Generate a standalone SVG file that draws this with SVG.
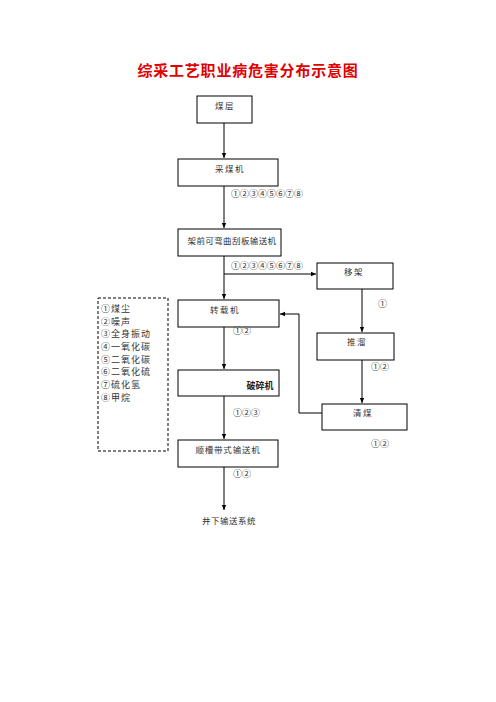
<svg xmlns="http://www.w3.org/2000/svg" width="496" height="702" viewBox="0 0 496 702">
<defs>
<marker id="ah" markerWidth="6" markerHeight="6" refX="5" refY="3" orient="auto" markerUnits="userSpaceOnUse">
<path d="M0,0.8 L5,3 L0,5.2 Z" fill="#000"/>
</marker>
<style>
.box{fill:#fff;stroke:#000;stroke-width:1}
.t{font-family:"Noto Sans CJK SC","Noto Sans CJK JP",sans-serif;font-size:8.5px;fill:#333;letter-spacing:1.5px}
.l{font-family:"Noto Sans CJK SC","Noto Sans CJK JP",sans-serif;font-size:9px;fill:#333;letter-spacing:1px}
.n{font-family:"Noto Sans CJK SC","Noto Sans CJK JP",sans-serif;font-size:9px;fill:#333}
.c{stroke:#000;stroke-width:1;fill:none}
</style>
</defs>
<rect width="496" height="702" fill="#fff"/>
<text x="248" y="76" text-anchor="middle" font-family="Noto Sans CJK SC,sans-serif" font-size="15" font-weight="bold" fill="#e00000" letter-spacing="0.8">综采工艺职业病危害分布示意图</text>

<g id="connectors">
<path class="c" d="M224,123 V158" marker-end="url(#ah)"/>
<path class="c" d="M224,186 V228" marker-end="url(#ah)"/>
<path class="c" d="M224,256 V299" marker-end="url(#ah)"/>
<path class="c" d="M224,274 H316" marker-end="url(#ah)"/>
<path class="c" d="M224,327 V369" marker-end="url(#ah)"/>
<path class="c" d="M224,396 V439" marker-end="url(#ah)"/>
<path class="c" d="M224,467 V510" marker-end="url(#ah)"/>
<path class="c" d="M362,289 V332" marker-end="url(#ah)"/>
<path class="c" d="M362,360 V403" marker-end="url(#ah)"/>
<path class="c" d="M322,413 H299 V314 H280" marker-end="url(#ah)"/>
</g>

<g id="n-meiceng"><rect class="box" x="197" y="96" width="55" height="27"/><text class="t" x="225" y="109" text-anchor="middle">煤层</text></g>
<g id="n-caimeiji"><rect class="box" x="178" y="159" width="100" height="27"/><text class="t" x="230" y="172" text-anchor="middle">采煤机</text></g>
<g id="n-guaban"><rect class="box" x="178" y="229" width="103" height="27"/><text class="t" x="232" y="244" text-anchor="middle" style="letter-spacing:0.4px">架前可弯曲刮板输送机</text></g>
<g id="n-yijia"><rect class="box" x="317" y="263" width="76" height="26"/><text class="t" x="354" y="275" text-anchor="middle">移架</text></g>
<g id="n-zhuanzaiji"><rect class="box" x="178" y="300" width="101" height="27"/><text class="t" x="225" y="313" text-anchor="middle">转载机</text></g>
<g id="n-tuiliu"><rect class="box" x="317" y="333" width="77" height="27"/><text class="t" x="357" y="345" text-anchor="middle">推溜</text></g>
<g id="n-posuiji"><rect class="box" x="178" y="370" width="101" height="26"/><text x="260" y="389" text-anchor="middle" font-family="Noto Sans CJK SC,sans-serif" font-size="9" font-weight="bold" fill="#222">破碎机</text></g>
<g id="n-qingmei"><rect class="box" x="322" y="404" width="85" height="26"/><text class="t" x="363" y="416" text-anchor="middle">清煤</text></g>
<g id="n-shuncao"><rect class="box" x="178" y="440" width="100" height="27"/><text class="t" x="228" y="453" text-anchor="middle" style="letter-spacing:0.8px">顺槽带式输送机</text></g>
<g id="n-jingxia"><text class="t" x="229" y="524" text-anchor="middle" style="letter-spacing:0.5px">井下输送系统</text></g>

<g id="labels">
<text class="n" x="231" y="197">①②③④⑤⑥⑦⑧</text>
<text class="n" x="231" y="269">①②③④⑤⑥⑦⑧</text>
<text class="n" x="233" y="334">①②</text>
<text class="n" x="233" y="416">①②③</text>
<text class="n" x="233" y="477">①②</text>
<text class="n" x="378" y="307">①</text>
<text class="n" x="371" y="370">①②</text>
<text class="n" x="371" y="447">①②</text>
</g>

<g id="legend">
<rect x="98" y="298" width="70" height="153" fill="none" stroke="#000" stroke-width="1" stroke-dasharray="3,2"/>
<text class="l" x="101" y="312">①煤尘</text>
<text class="l" x="101" y="325">②噪声</text>
<text class="l" x="101" y="337">③全身振动</text>
<text class="l" x="101" y="350">④一氧化碳</text>
<text class="l" x="101" y="363">⑤二氧化碳</text>
<text class="l" x="101" y="375">⑥二氧化硫</text>
<text class="l" x="101" y="388">⑦硫化氢</text>
<text class="l" x="101" y="401">⑧甲烷</text>
</g>
</svg>
